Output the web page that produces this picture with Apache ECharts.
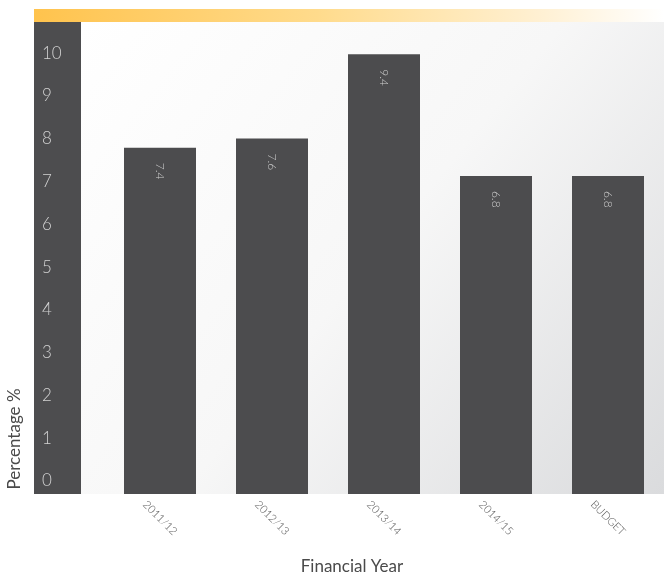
<!DOCTYPE html>
<html>
<head>
<meta charset="utf-8">
<style>
  html, body { margin: 0; padding: 0; background: #ffffff; }
  #chart { width: 664px; height: 578px; }
</style>
<script src="https://cdn.jsdelivr.net/npm/echarts@6/dist/echarts.min.js"></script>
</head>
<body>
<div id="chart"></div>
<script>
// Financial year categories and the percentage for each
const categories = ['2011/12', '2012/13', '2013/14', '2014/15', 'BUDGET'];
const percentages = [7.4, 7.6, 9.4, 6.8, 6.8];
// Scale labels shown down the dark strip
const scaleTicks = [0, 1, 2, 3, 4, 5, 6, 7, 8, 9, 10];

const FONT = 'Lato, "Open Sans", sans-serif';
const chart = echarts.init(document.getElementById('chart'), null, { renderer: 'canvas' });

chart.setOption({
  backgroundColor: '#ffffff',
  animation: false,
  graphic: [
    // soft grey plot background
    {
      type: 'rect', z: -10, silent: true,
      shape: { x: 81, y: 22, width: 583, height: 472 },
      style: {
        fill: {
          type: 'linear', x: 0, y: 0, x2: 1, y2: 1,
          colorStops: [
            { offset: 0, color: '#ffffff' },
            { offset: 0.5, color: '#f7f7f7' },
            { offset: 1, color: '#dadbdd' }
          ]
        }
      }
    },
    // amber header band
    {
      type: 'rect', z: -10, silent: true,
      shape: { x: 34, y: 9, width: 630, height: 13 },
      style: {
        fill: {
          type: 'linear', x: 0, y: 0, x2: 1, y2: 0,
          colorStops: [
            { offset: 0, color: '#ffc34d' },
            { offset: 0.45, color: '#ffdb8c' },
            { offset: 0.8, color: '#fff0d2' },
            { offset: 1, color: '#ffffff' }
          ]
        }
      }
    },
    // dark scale strip
    {
      type: 'rect', z: -9, silent: true,
      shape: { x: 34, y: 22, width: 47, height: 472 },
      style: { fill: '#4d4d4f' }
    },
    // axis titles
    {
      type: 'text', silent: true,
      x: 15, y: 439, rotation: Math.PI / 2,
      style: {
        text: 'Percentage %', font: '17px ' + FONT, fill: '#4a4a4a',
        align: 'center', verticalAlign: 'middle'
      }
    },
    {
      type: 'text', silent: true,
      x: 352, y: 567,
      style: {
        text: 'Financial Year', font: '17px ' + FONT, fill: '#4a4a4a',
        align: 'center', verticalAlign: 'middle'
      }
    }
  ],
  grid: { left: 104, right: -2, top: 22, bottom: 84, containLabel: false },
  xAxis: {
    type: 'category',
    data: categories,
    axisLine: { show: false },
    axisTick: { show: false },
    axisLabel: {
      rotate: -45,
      align: 'center',
      verticalAlign: 'middle',
      margin: 24,
      fontSize: 11,
      fontWeight: 300,
      fontFamily: FONT,
      color: '#555555'
    }
  },
  yAxis: [
    {
      type: 'value',
      min: 0,
      max: 10.09,
      show: false
    },
    {
      type: 'value',
      position: 'left',
      min: 0,
      max: 11.03,
      interval: 1,
      axisLine: { show: false },
      axisTick: { show: false },
      splitLine: { show: false },
      axisLabel: {
        customValues: scaleTicks,
        formatter: function (v) { return v <= 10 ? String(v) : ''; },
        align: 'left',
        verticalAlign: 'bottom',
        lineHeight: 26,
        margin: 62,
        fontSize: 17,
        fontWeight: 300,
        fontFamily: FONT,
        color: '#d2d2d2'
      }
    }
  ],
  series: [
    {
      type: 'bar',
      yAxisIndex: 0,
      data: percentages,
      barWidth: 72,
      itemStyle: { color: '#4c4c4e' },
      label: {
        show: true,
        position: 'insideTop',
        distance: 15,
        rotate: -90,
        align: 'left',
        verticalAlign: 'middle',
        fontSize: 12,
        fontWeight: 300,
        fontFamily: FONT,
        color: '#d0d0d0',
        formatter: function (p) { return p.value.toFixed(1); }
      }
    }
  ]
});
</script>
</body>
</html>
